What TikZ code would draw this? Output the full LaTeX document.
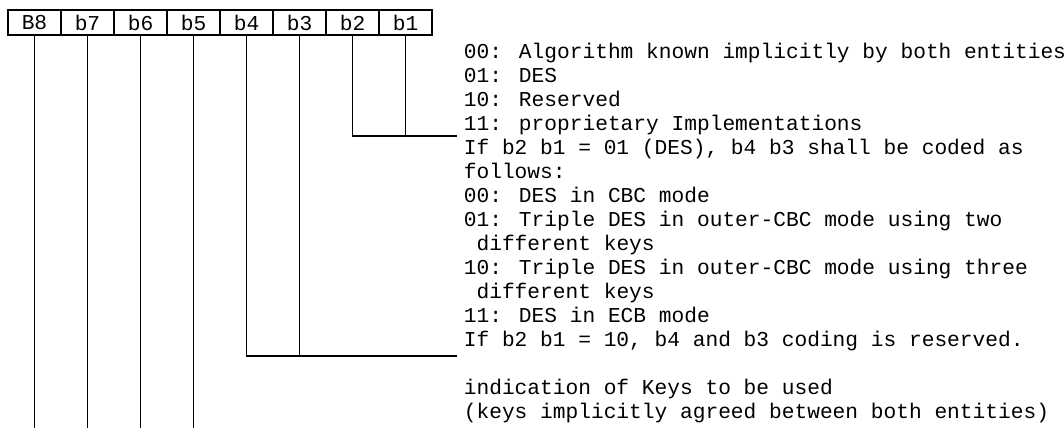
\documentclass[tikz,border=0pt]{standalone}
\usepackage{fontspec}
\newfontfamily\bitfont{Liberation Mono}
\usetikzlibrary{positioning}

\begin{document}
\begin{tikzpicture}[
  x=0.5pt, y=-0.5pt,
  line width=0.85pt,
  node distance=0pt,
  bit/.style={draw, outer sep=0pt, inner sep=0pt, minimum width=26.5pt, minimum height=12.5pt, font=\bitfont\fontsize{10.6}{12}\selectfont},
  desc/.style={anchor=base west, align=left, inner sep=0pt, font=\bitfont\fontsize{10.6}{12}\selectfont}
]
  \useasboundingbox (0,0) rectangle (1064,428);

  % the byte
  \node[bit] (b8) at (34.5,22.5) {B8};
  \node[bit, right=of b8] (b7) {b7};
  \node[bit, right=of b7] (b6) {b6};
  \node[bit, right=of b6] (b5) {b5};
  \node[bit, right=of b5] (b4) {b4};
  \node[bit, right=of b4] (b3) {b3};
  \node[bit, right=of b3] (b2) {b2};
  \node[bit, right=of b2] (b1) {b1};

  % coding of the bits (placed by the baseline of the last line)
  \node[desc] (t21) at (463,130) {00: Algorithm known implicitly by both entities\\
    01: DES\\
    10: Reserved\\
    11: proprietary Implementations};
  \node[desc] (t43) at (463,346) {If b2 b1 = 01 (DES), b4 b3 shall be coded as\\
    follows:\\
    00: DES in CBC mode\\
    01: Triple DES in outer-CBC mode using two\\
    ~different keys\\
    10: Triple DES in outer-CBC mode using three\\
    ~different keys\\
    11: DES in ECB mode\\
    If b2 b1 = 10, b4 and b3 coding is reserved.};
  \node[desc] (tkey) at (463,418) {indication of Keys to be used\\
    (keys implicitly agreed between both entities)};

  \coordinate (e21) at (457,136);
  \coordinate (e43) at (457,356);
  \coordinate (bot) at (0,428);

  \draw (b2) |- (e21);
  \draw (b1) -- (b1 |- e21);
  \draw (b4) |- (e43);
  \draw (b3) -- (b3 |- e43);

  \draw (b8) -- (b8 |- bot);
  \draw (b7) -- (b7 |- bot);
  \draw (b6) -- (b6 |- bot);
  \draw (b5) -- (b5 |- bot);
\end{tikzpicture}
\end{document}
